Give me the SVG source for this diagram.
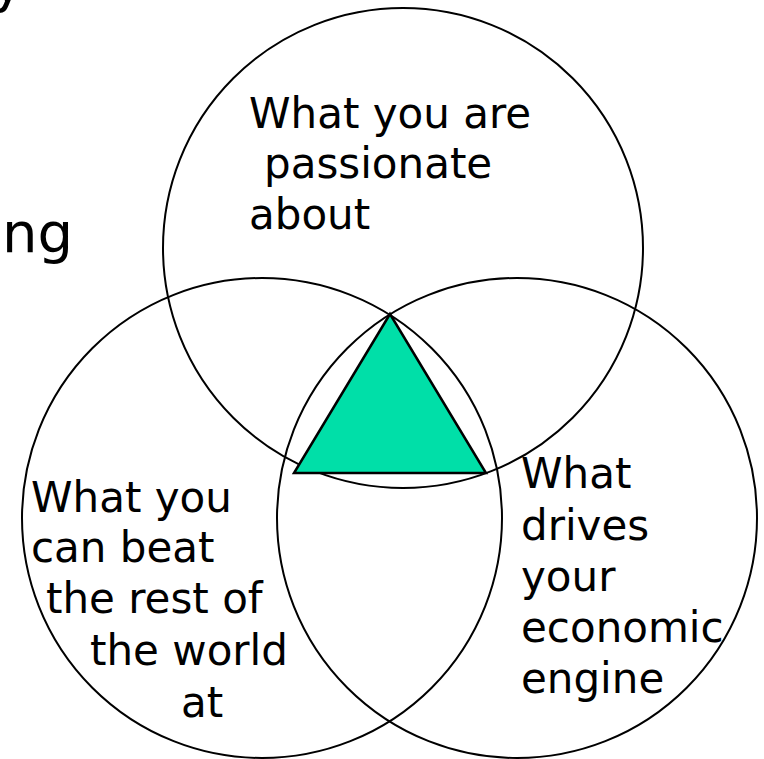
<svg xmlns="http://www.w3.org/2000/svg" width="764" height="759" viewBox="0 0 764 759">
  <style>
    .ring { fill: none; stroke: #000; stroke-width: 2; }
    .lbl { font-family: "DejaVu Sans", Verdana, sans-serif; font-size: 42px; fill: #000; }
    .title { font-family: "DejaVu Sans", Verdana, sans-serif; font-size: 56px; fill: #000; }
  </style>
  <rect width="764" height="759" fill="#fff"/>

  <!-- fragments of a heading cut off at the left -->
  <text class="title" x="-9" y="1">y</text>
  <text class="title" x="2" y="252">ng</text>

  <g id="passion">
    <circle class="ring" cx="403" cy="248" r="240"/>
    <text class="lbl" x="249" y="128">What you are</text>
    <text class="lbl" x="264" y="178">passionate</text>
    <text class="lbl" x="249" y="229">about</text>
  </g>

  <g id="best">
    <circle class="ring" cx="262" cy="518" r="240"/>
    <text class="lbl" x="31" y="512">What you</text>
    <text class="lbl" x="31" y="562">can beat</text>
    <text class="lbl" x="46" y="613">the rest of</text>
    <text class="lbl" x="90" y="665">the world</text>
    <text class="lbl" x="181" y="717">at</text>
  </g>

  <g id="economic">
    <circle class="ring" cx="517" cy="518" r="240"/>
    <text class="lbl" x="521" y="488">What</text>
    <text class="lbl" x="521" y="540">drives</text>
    <text class="lbl" x="521" y="591">your</text>
    <text class="lbl" x="521" y="642">economic</text>
    <text class="lbl" x="521" y="693">engine</text>
  </g>

  <g id="core">
    <polygon points="390,314 294,473 486,473" fill="#00DFA8" stroke="#000" stroke-width="2.5" stroke-linejoin="miter"/>
  </g>
</svg>
